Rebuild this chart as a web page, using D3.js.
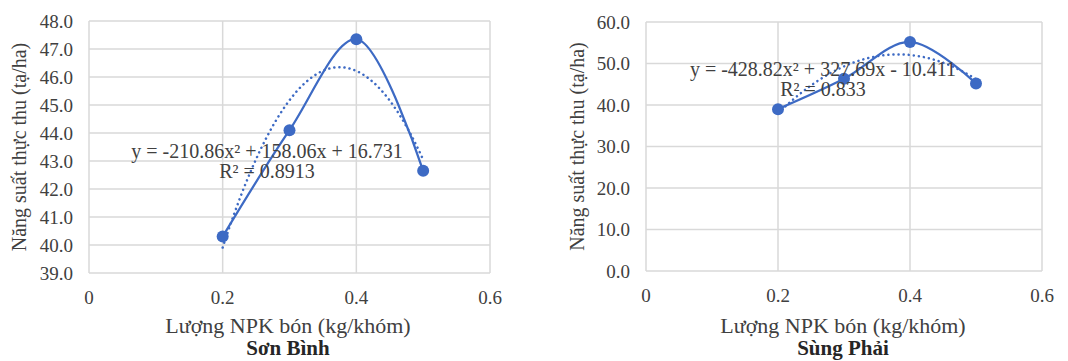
<!DOCTYPE html>
<html>
<head>
<meta charset="utf-8">
<script src="https://cdn.jsdelivr.net/npm/d3@7"></script>
<style>
  body { margin: 0; background: #fff; }
</style>
</head>
<body>
<div id="chart"></div>
<script>
// NPK rate (kg/khóm) and yield (tạ/ha)
const npk = [0.2, 0.3, 0.4, 0.5];
const yieldSonBinh = [40.3, 44.1, 47.35, 42.65];
const yieldSungPhai = [39.0, 46.3, 55.2, 45.2];

// trendline coefficients [a, b, c] for y = ax² + bx + c
const trendSonBinh = [-210.86, 158.06, 16.731];
const trendSungPhai = [-428.82, 327.69, -10.411];

const eqSonBinh = ["y = -210.86x² + 158.06x + 16.731", "R² = 0.8913"];
const eqSungPhai = ["y = -428.82x² + 327.69x - 10.411", "R² = 0.833"];

const xTicks = [0, 0.2, 0.4, 0.6];
const yTicksSonBinh = [39, 40, 41, 42, 43, 44, 45, 46, 47, 48];
const yTicksSungPhai = [0, 10, 20, 30, 40, 50, 60];

const titles = ["Sơn Bình", "Sùng Phải"];

const width = 1068, height = 361;
const blue = "#3d6ac4";
const font = "'Liberation Serif', 'DejaVu Serif', serif";

const svg = d3.select("#chart")
  .append("svg")
  .attr("width", width)
  .attr("height", height)
  .attr("font-family", font);

function drawPanel(opts) {
  const x = d3.scaleLinear().domain([0, 0.6]).range([opts.left, opts.right]);
  const y = d3.scaleLinear().domain(opts.yDomain).range([opts.bottom, opts.top]);
  const g = svg.append("g");

  // grid
  g.selectAll(".hgrid")
    .data(opts.yTicks)
    .enter()
    .append("line")
    .attr("x1", opts.left).attr("x2", opts.right)
    .attr("y1", d => y(d)).attr("y2", d => y(d))
    .attr("stroke", "#d9d9d9").attr("stroke-width", 1.5);
  g.selectAll(".vgrid")
    .data(xTicks)
    .enter()
    .append("line")
    .attr("x1", d => x(d)).attr("x2", d => x(d))
    .attr("y1", opts.top).attr("y2", opts.bottom)
    .attr("stroke", "#d9d9d9").attr("stroke-width", 1.5);

  // tick labels
  g.selectAll(".ylab")
    .data(opts.yTicks)
    .enter()
    .append("text")
    .attr("x", opts.left - 16)
    .attr("y", d => y(d))
    .attr("dy", "0.35em")
    .attr("text-anchor", "end")
    .attr("font-size", 19)
    .attr("fill", "#404040")
    .text(d => d3.format(".1f")(d));
  g.selectAll(".xlab")
    .data(xTicks)
    .enter()
    .append("text")
    .attr("x", d => x(d))
    .attr("y", opts.bottom + 31)
    .attr("text-anchor", "middle")
    .attr("font-size", 19)
    .attr("fill", "#404040")
    .text(d => d === 0 ? "0" : d3.format(".1f")(d));

  // trendline
  const [a, b, c] = opts.trend;
  const tx = d3.range(0.2, 0.5001, 0.005);
  g.append("path")
    .datum(tx)
    .attr("fill", "none")
    .attr("stroke", blue)
    .attr("stroke-width", 2.5)
    .attr("stroke-dasharray", "0.1,5")
    .attr("stroke-linecap", "round")
    .attr("d", d3.line().x(d => x(d)).y(d => y(a * d * d + b * d + c)));

  // smoothed data line
  const pts = npk.map((d, i) => [d, opts.values[i]]);
  g.append("path")
    .datum(pts)
    .attr("fill", "none")
    .attr("stroke", blue)
    .attr("stroke-width", 2.25)
    .attr("d", d3.line().x(d => x(d[0])).y(d => y(d[1])).curve(d3.curveCatmullRom.alpha(0.5)));

  g.selectAll(".pt")
    .data(pts)
    .enter()
    .append("circle")
    .attr("cx", d => x(d[0]))
    .attr("cy", d => y(d[1]))
    .attr("r", 6)
    .attr("fill", blue);

  // equation
  g.selectAll(".eq")
    .data(opts.eq)
    .enter()
    .append("text")
    .attr("x", opts.eqX)
    .attr("y", (d, i) => opts.eqY + i * 20)
    .attr("text-anchor", "middle")
    .attr("font-size", 20)
    .attr("fill", "#404040")
    .text(d => d);

  // axis titles
  g.append("text")
    .attr("transform", `translate(${opts.yTitleX},${(opts.top + opts.bottom) / 2}) rotate(-90)`)
    .attr("dy", "0.35em")
    .attr("text-anchor", "middle")
    .attr("font-size", 20)
    .attr("fill", "#404040")
    .text("Năng suất thực thu (tạ/ha)");
  g.append("text")
    .attr("x", opts.titleX)
    .attr("y", 333)
    .attr("text-anchor", "middle")
    .attr("font-size", 22)
    .attr("fill", "#404040")
    .text("Lượng NPK bón (kg/khóm)");
  g.append("text")
    .attr("x", opts.titleX)
    .attr("y", 355)
    .attr("text-anchor", "middle")
    .attr("font-size", 21)
    .attr("font-weight", "bold")
    .attr("fill", "#262626")
    .text(opts.title);
}

drawPanel({
  left: 89, right: 490, top: 21, bottom: 273,
  yDomain: [39, 48], yTicks: yTicksSonBinh,
  values: yieldSonBinh, trend: trendSonBinh, eq: eqSonBinh,
  eqX: 267, eqY: 158, yTitleX: 19, titleX: 288, title: titles[0]
});

drawPanel({
  left: 646, right: 1042, top: 22, bottom: 271,
  yDomain: [0, 60], yTicks: yTicksSungPhai,
  values: yieldSungPhai, trend: trendSungPhai, eq: eqSungPhai,
  eqX: 823, eqY: 76, yTitleX: 577, titleX: 843, title: titles[1]
});
</script>
</body>
</html>
